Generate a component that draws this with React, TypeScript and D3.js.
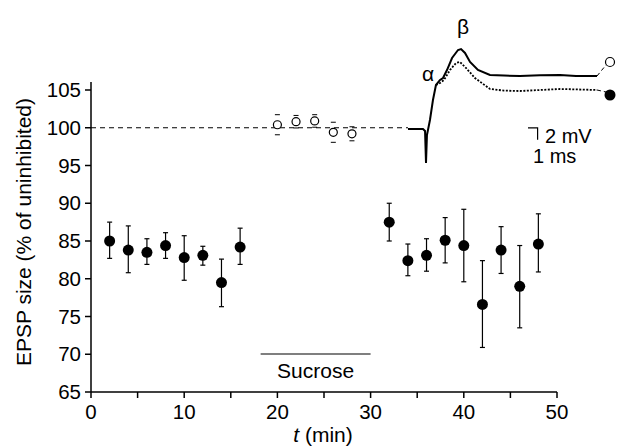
import * as d3 from "d3";

const filledT = [2, 4, 6, 8, 10, 12, 14, 16, 32, 34, 36, 38, 40, 42, 44, 46, 48];
const filledV = [85, 83.8, 83.5, 84.4, 82.8, 83.1, 79.5, 84.2, 87.5, 82.4, 83.1, 85.1, 84.4, 76.6, 83.8, 79, 84.6];
const filledHi = [87.5, 87, 85.3, 86.1, 85.7, 84.3, 82.6, 86.7, 90, 84.6, 85.3, 88.1, 89.2, 82.4, 86.9, 84.4, 88.6];
const filledLo = [82.7, 80.8, 81.9, 82.7, 79.8, 81.8, 76.3, 81.9, 85, 80.4, 81, 82.1, 79.6, 70.9, 80.7, 73.5, 80.9];
const openT = [20, 22, 24, 26, 28];
const openV = [100.4, 100.8, 100.9, 99.4, 99.2];
const openErr = [0.8, 0.3, 0.3, 0.8, 0.4];
const xTicks = [0, 10, 20, 30, 40, 50];
const yTicks = [65, 70, 75, 80, 85, 90, 95, 100, 105];

// inset trace (ms, mV)
const solidT = [0, 1.25, 1.42, 1.5, 1.58, 1.83, 2.08, 2.33, 2.67, 2.92, 3.25, 3.67, 4.17, 4.42, 4.75, 5.17, 5.83, 6.83, 8, 9.33, 11, 12.67, 14, 15.75];
const solidV = [0, 0, -0.33, -5.67, -1, 1.5, 4.83, 7.33, 8.17, 8.5, 9.83, 11.83, 13.17, 13.33, 12.67, 11.17, 9.83, 9, 8.9, 8.83, 8.95, 9, 8.85, 8.83];
const dotT = [2.33, 2.67, 3, 3.5, 4, 4.33, 4.83, 5.58, 6.83, 8, 9.33, 11, 12.67, 14, 15.75];
const dotV = [7.33, 7.67, 8.17, 9.83, 11, 11.17, 10.17, 8.5, 6.67, 6.4, 6.33, 6.5, 6.67, 6.6, 6.5];

export default function App() {
  const x = d3.scaleLinear().domain([0, 50]).range([91, 557]);
  const y = d3.scaleLinear().domain([65, 105]).range([392, 90]);
  const tx = d3.scaleLinear().domain([0, 1]).range([408, 420]);
  const ty = d3.scaleLinear().domain([0, 1]).range([129, 123]);
  const line = d3.line<[number, number]>().x((d) => tx(d[0])).y((d) => ty(d[1]));
  const solid = line(solidT.map((t, i) => [t, solidV[i]]))!;
  const dotted = line(dotT.map((t, i) => [t, dotV[i]]))!;
  const font = "Liberation Sans, Arial, sans-serif";
  const endX = tx(15.75);
  return (
    <svg width={618} height={447} style={{ position: "absolute", left: 0, top: 0, background: "#fff" }} fontFamily={font}>
      <line x1={91} x2={91} y1={y(105) - 8} y2={392} stroke="#000" strokeWidth={1.5} />
      <line x1={91} x2={557} y1={392} y2={392} stroke="#000" strokeWidth={1.5} />
      {yTicks.map((v) => (
        <g key={v}>
          <line x1={85} x2={91} y1={y(v)} y2={y(v)} stroke="#000" strokeWidth={1.5} />
          <text x={81} y={y(v) + 7} textAnchor="end" fontSize={20.5}>{v}</text>
        </g>
      ))}
      {d3.range(0, 51, 5).map((v) => (
        <line key={v} x1={x(v)} x2={x(v)} y1={392} y2={398} stroke="#000" strokeWidth={1.5} />
      ))}
      {xTicks.map((v) => (
        <text key={v} x={x(v)} y={419} textAnchor="middle" fontSize={20.5}>{v}</text>
      ))}
      <text x={323} y={442} textAnchor="middle" fontSize={21}>
        <tspan fontStyle="italic">t</tspan> (min)
      </text>
      <text transform="translate(31,232) rotate(-90)" textAnchor="middle" fontSize={21}>EPSP size (% of uninhibited)</text>
      <line x1={x(0)} x2={tx(0)} y1={y(100)} y2={y(100)} stroke="#000" strokeDasharray="5,4" strokeWidth={1} />
      <line x1={x(18.2)} x2={x(30)} y1={354} y2={354} stroke="#000" strokeWidth={1.2} />
      <text x={x(24.1)} y={378} textAnchor="middle" fontSize={21}>Sucrose</text>
      {filledT.map((t, i) => (
        <g key={t}>
          <line x1={x(t)} x2={x(t)} y1={y(filledHi[i])} y2={y(filledLo[i])} stroke="#000" strokeWidth={1.2} />
          <line x1={x(t) - 2.5} x2={x(t) + 2.5} y1={y(filledHi[i])} y2={y(filledHi[i])} stroke="#000" strokeWidth={1.2} />
          <line x1={x(t) - 2.5} x2={x(t) + 2.5} y1={y(filledLo[i])} y2={y(filledLo[i])} stroke="#000" strokeWidth={1.2} />
          <circle cx={x(t)} cy={y(filledV[i])} r={5.5} fill="#000" />
        </g>
      ))}
      {openT.map((t, i) => (
        <g key={t}>
          <line x1={x(t) - 2.5} x2={x(t) + 2.5} y1={y(openV[i] + openErr[i]) - 4} y2={y(openV[i] + openErr[i]) - 4} stroke="#000" />
          <line x1={x(t) - 2.5} x2={x(t) + 2.5} y1={y(openV[i] - openErr[i]) + 4} y2={y(openV[i] - openErr[i]) + 4} stroke="#000" />
          <circle cx={x(t)} cy={y(openV[i])} r={4} fill="#fff" stroke="#000" strokeWidth={1.2} />
        </g>
      ))}
      <path d={solid} fill="none" stroke="#000" strokeWidth={2} />
      <path d={dotted} fill="none" stroke="#000" strokeWidth={1.8} strokeDasharray="2,1.5" />
      <line x1={endX} x2={606} y1={ty(8.83)} y2={65} stroke="#000" strokeDasharray="4,3" />
      <line x1={endX} x2={606} y1={ty(6.5)} y2={92} stroke="#000" strokeDasharray="4,3" />
      <circle cx={610} cy={62} r={4.5} fill="#fff" stroke="#000" strokeWidth={1.2} />
      <circle cx={610} cy={95} r={5.5} fill="#000" />
      <text x={428} y={81} textAnchor="middle" fontSize={21}>α</text>
      <text x={463} y={34} textAnchor="middle" fontSize={21}>β</text>
      <path d={`M${tx(10.8)},${ty(-1.8)}V${ty(0.2)}H${tx(10)}`} fill="none" stroke="#000" strokeWidth={1.2} />
      <text x={545} y={143} fontSize={20}>2 mV</text>
      <text x={533} y={163} fontSize={20}>1 ms</text>
    </svg>
  );
}
